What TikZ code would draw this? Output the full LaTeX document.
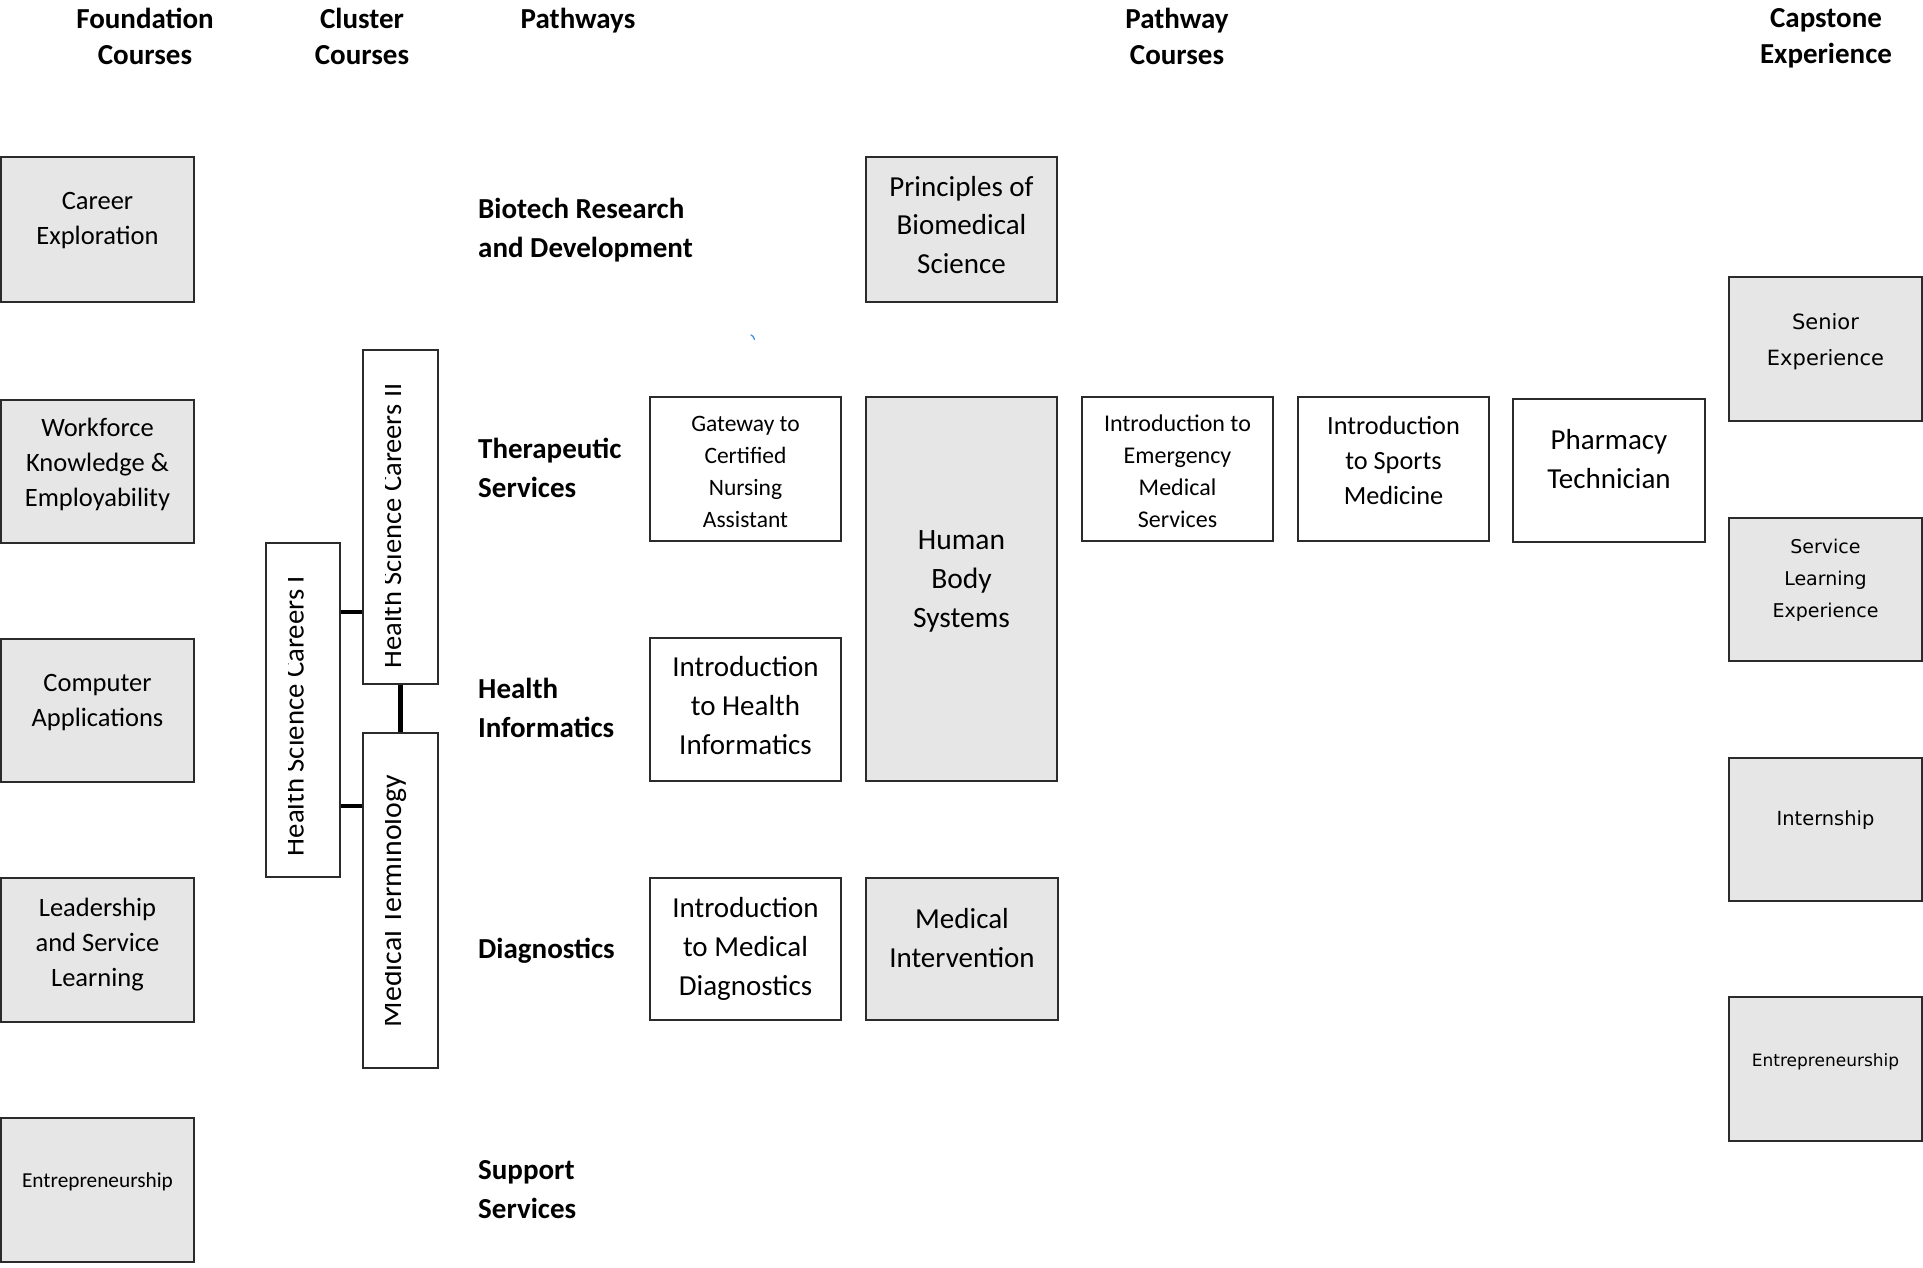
\documentclass[tikz,border=0pt]{standalone}
\usepackage{fontspec}
\setmainfont{Carlito}
\newfontfamily\capfont{DejaVu Sans}
\newcommand\fs[2]{\fontsize{#1}{#2}\selectfont}
\definecolor{boxgray}{HTML}{E6E6E6}
\definecolor{edge}{HTML}{2B2B2B}
\definecolor{tickblue}{HTML}{4A90E2}
\tikzset{
  greybox/.style={draw=edge, line width=1.4pt, fill=boxgray, inner sep=0pt, rectangle},
  whitebox/.style={draw=edge, line width=1.4pt, fill=white, inner sep=0pt, rectangle},
  coursetext/.style={align=center, inner sep=0pt, text=black},
  titletext/.style={align=center, inner sep=0pt, font=\bfseries\fs{29}{36}},
  pathlabel/.style={align=left, anchor=west, inner sep=0pt, font=\bfseries\fs{29}{39}},
  conn/.style={line width=4.2pt, draw=black},
  vtext/.style={rotate=90, anchor=base, inner sep=0pt}
}
\newcommand\course[9]{%
  \node[#2, minimum width={(#5-#3)*1pt}, minimum height={(#6-#4)*1pt}] (#1) at ({(#3+#5)/2},{(#4+#6)/2}) {};
  \node[coursetext, font=#8] (#1-t) at ({(#3+#5)/2},#7) {#9};
}
\begin{document}
\begin{tikzpicture}[x=1pt, y=-1pt]
\useasboundingbox (0,0) rectangle (1923,1267);

% titles
\node[titletext] (tFound) at (145,36) {Foundation\\Courses};
\node[titletext] (tCluster) at (362,36) {Cluster\\Courses};
\node[titletext] (tPath) at (578,20.5) {Pathways};
\node[titletext] (tPathC) at (1177,36) {Pathway\\Courses};
\node[titletext] (tCap) at (1826,38.5) {Capstone\\Experience};

% foundation courses
\course{career}{greybox}{1}{157}{194}{302}{221}{\fs{26.5}{35}}{Career\\Exploration}
\course{workforce}{greybox}{1}{400}{194}{543}{464.5}{\fs{26.5}{35}}{Workforce\\Knowledge \&\\Employability}
\course{computer}{greybox}{1}{639}{194}{782}{702.5}{\fs{26.5}{35}}{Computer\\Applications}
\course{leader}{greybox}{1}{878}{194}{1022}{944.5}{\fs{26.5}{35}}{Leadership\\and Service\\Learning}
\course{entreF}{greybox}{1}{1118}{194}{1262}{1181.5}{\fs{21.3}{30}}{Entrepreneurship}

% cluster courses
\node[whitebox, minimum width=74pt, minimum height=334pt] (hsc1) at (303,710) {};
\node[whitebox, minimum width=75pt, minimum height=334pt] (hsc2) at (400.5,517) {};
\node[whitebox, minimum width=75pt, minimum height=335pt] (mt) at (400.5,900.5) {};
\begin{scope}
  \clip (288,543) rectangle (340,877);
  \node[vtext, font=\fs{28.8}{34}] (hsc1-t) at (303.5,716) {Health Science Careers I};
\end{scope}
\begin{scope}
  \clip (385.5,350) rectangle (438,684);
  \node[vtext, font=\fs{28.5}{34}] (hsc2-t) at (401,526) {Health Science Careers II};
\end{scope}
\begin{scope}
  \clip (385.5,733) rectangle (438,1068);
  \node[vtext, font=\fs{29.8}{34}] (mt-t) at (401,901) {Medical Terminology};
\end{scope}
\draw[conn] (hsc1.east |- 0,612) -- (hsc2.west |- 0,612);
\draw[conn] (hsc1.east |- 0,806) -- (mt.west |- 0,806);
\draw[conn] (hsc2.south) -- (mt.north);

% pathways
\node[pathlabel] (pBio) at (478,230.5) {Biotech Research\\and Development};
\node[pathlabel] (pTher) at (478,468) {Therapeutic\\Services};
\node[pathlabel] (pHI) at (478,708) {Health\\Informatics};
\node[pathlabel] (pDiag) at (478,950.5) {Diagnostics};
\node[pathlabel] (pSup) at (478,1189.5) {Support\\Services};

% pathway courses
\course{gateway}{whitebox}{650}{397}{841}{541}{472}{\fs{23.5}{32}}{Gateway to\\Certified\\Nursing\\Assistant}
\course{ihi}{whitebox}{650}{638}{841}{781}{706}{\fs{29}{39}}{Introduction\\to Health\\Informatics}
\course{imd}{whitebox}{650}{878}{841}{1020}{948.5}{\fs{29}{39}}{Introduction\\to Medical\\Diagnostics}
\course{pbs}{greybox}{866}{157}{1057}{302}{225}{\fs{29}{38.5}}{Principles of\\Biomedical\\Science}
\course{hbs}{greybox}{866}{397}{1057}{781}{581.5}{\fs{29.5}{39}}{Human\\Body\\Systems}
\course{mi}{greybox}{866}{878}{1058}{1020}{938}{\fs{29}{39}}{Medical\\Intervention}
\course{ems}{whitebox}{1082}{397}{1273}{541}{471}{\fs{24}{32}}{Introduction to\\Emergency\\Medical\\Services}
\course{sports}{whitebox}{1298}{397}{1489}{541}{460}{\fs{26.3}{35}}{Introduction\\to Sports\\Medicine}
\course{pharm}{whitebox}{1513}{399}{1705}{542}{459}{\fs{29}{39}}{Pharmacy\\Technician}

% capstone
\course{senior}{greybox}{1729}{277}{1922}{421}{341.7}{\capfont\fs{21}{36}}{Senior\\Experience}
\course{service}{greybox}{1729}{518}{1922}{661}{580.5}{\capfont\fs{19}{32}}{Service\\Learning\\Experience}
\course{intern}{greybox}{1729}{758}{1922}{901}{820.5}{\capfont\fs{19.4}{30}}{Internship}
\course{entreC}{greybox}{1729}{997}{1922}{1141}{1061.7}{\capfont\fs{17}{26}}{Entrepreneurship}

% stray mark
\draw[tickblue, line width=1.3pt, line cap=round] (751,335) .. controls (753,336) .. (754.5,339.5);
\end{tikzpicture}
\end{document}
